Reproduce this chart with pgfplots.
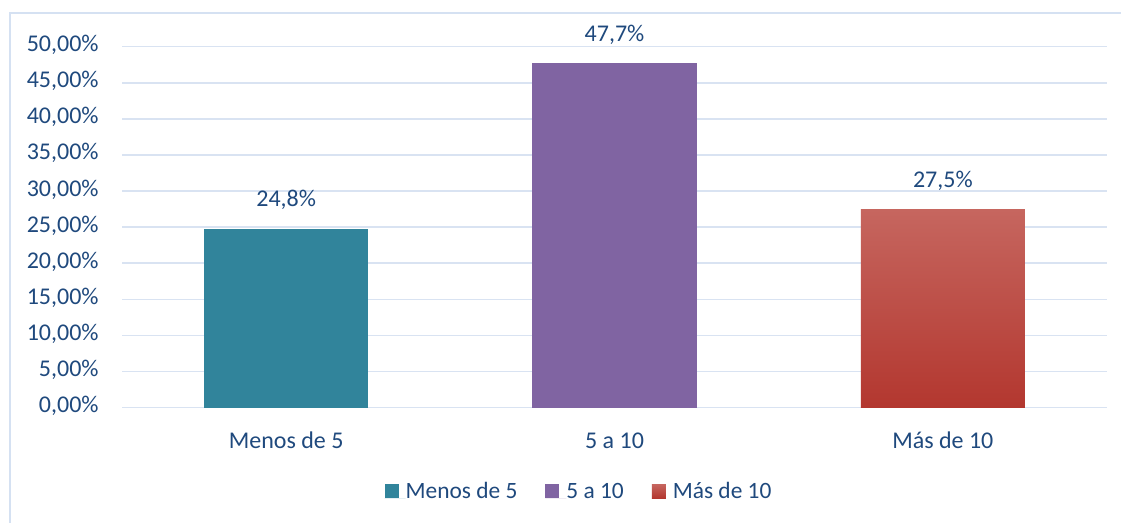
\documentclass[border=0pt]{standalone}
\usepackage{fontspec}
\setmainfont{Carlito}
\usepackage{pgfplots}
\pgfplotsset{compat=1.18}
\definecolor{txt}{HTML}{1F497D}
\definecolor{gridc}{HTML}{D9E3F2}
\definecolor{framec}{HTML}{D5E1F2}
\definecolor{cteal}{HTML}{31849B}
\definecolor{cpurp}{HTML}{8064A2}
\definecolor{credT}{HTML}{C6665F}
\definecolor{credM}{HTML}{C24A46}
\definecolor{credB}{HTML}{B3372F}
\begin{document}
\fontsize{12}{14}\selectfont
\begin{tikzpicture}
\useasboundingbox (0,0) rectangle (560.5pt,261.5pt);
\draw[framec, line width=0.9pt] (5pt,0pt) -- (5pt,255pt) -- (560.5pt,255pt);
\begin{axis}[
  at={(61pt,57.65pt)}, anchor=south west,
  scale only axis, width=492.5pt, height=180.5pt,
  xmin=-0.5, xmax=2.5, ymin=0, ymax=50,
  enlargelimits=false, clip=false,
  axis line style={draw=none},
  major tick length=0pt,
  ytick={0,5,...,50},
  ymajorgrids, grid style={gridc, line width=0.8pt},
  xtick={0,1,2}, xticklabels={Menos de 5,5 a 10,Más de 10},
  /pgf/number format/assume math mode=true,
  yticklabel={\pgfmathprintnumber[fixed,fixed zerofill,precision=2,use comma]{\tick}\%},
  yticklabel style={anchor=base east, inner sep=0pt, xshift=-11.5pt, yshift=-2.5pt, text=txt, font=\fontsize{12}{14}\selectfont},
  xticklabel style={anchor=base, inner sep=0pt, yshift=-20.5pt, text=txt, font=\fontsize{12}{14}\selectfont},
  ybar, bar width=0.5, bar shift=0pt,
  nodes near coords={\pgfmathprintnumber[fixed,precision=1,use comma]{\pgfplotspointmeta}\%},
  every node near coord/.append style={anchor=base, inner sep=0pt, yshift=11pt, text=txt, font=\fontsize{12}{14}\selectfont},
  legend columns=3,
  legend style={draw=none, at={(0.463,-0.233)}, anchor=center, font=\fontsize{11.7}{14}\selectfont, text=txt,
    nodes={inner sep=0pt}, cells={anchor=base west},
    /tikz/every even column/.append style={column sep=14pt}},
  legend image code/.code={\fill[#1] (0pt,0pt) rectangle (7pt,7pt); \path (0pt,0pt) -- (10.5pt,0pt);},
]
\addplot[draw=none, fill=cteal] coordinates {(0,24.8)};
\addlegendentry{Menos de 5}
\addplot[draw=none, fill=cpurp] coordinates {(1,47.7)};
\addlegendentry{5 a 10}
\addplot[draw=none, top color=credT, middle color=credM, bottom color=credB] coordinates {(2,27.5)};
\addlegendentry{Más de 10}
\end{axis}
\end{tikzpicture}
\end{document}
